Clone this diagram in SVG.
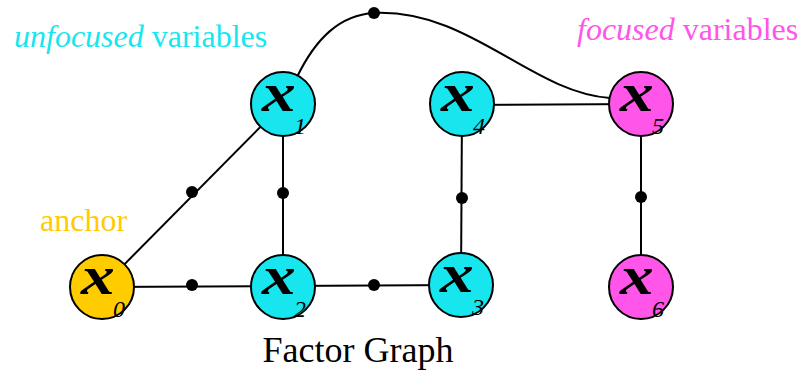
<svg xmlns="http://www.w3.org/2000/svg" width="807" height="375" viewBox="0 0 807 375">
<style>
.edge{stroke:#000;stroke-width:2;fill:none}
.fac{fill:#000}
.node{stroke:#000;stroke-width:2}
.cy{fill:#17E6EE}
.mg{fill:#FF55E8}
.yl{fill:#FFCC00}
.v{font-family:"Liberation Serif",serif;font-style:italic;font-weight:bold;font-size:54px;fill:#000;text-anchor:middle}
.s{font-family:"Liberation Serif",serif;font-style:italic;font-size:24px;fill:#000}
.lab{font-family:"Liberation Serif",serif;font-size:32px}
</style>
<rect width="807" height="375" fill="#fff"/>
<g id="connectors">
<line class="edge" x1="102" y1="287" x2="283" y2="104"/>
<line class="edge" x1="102" y1="287" x2="283" y2="286"/>
<line class="edge" x1="283" y1="104" x2="283" y2="287"/>
<line class="edge" x1="283" y1="286" x2="461" y2="285"/>
<line class="edge" x1="462" y1="104" x2="461" y2="285"/>
<line class="edge" x1="462" y1="105" x2="641" y2="104"/>
<line class="edge" x1="641" y1="104" x2="641" y2="287"/>
<path class="edge" d="M297,77 C316,38 340,15 374,13 C470,9 530,92 610,98"/>
<circle class="fac" cx="192" cy="192" r="6"/>
<circle class="fac" cx="283" cy="193" r="6"/>
<circle class="fac" cx="192" cy="285" r="6"/>
<circle class="fac" cx="374" cy="285" r="6"/>
<circle class="fac" cx="462" cy="198" r="6"/>
<circle class="fac" cx="641" cy="197" r="6"/>
<circle class="fac" cx="374" cy="13" r="6"/>
</g>
<g id="x0"><circle class="node yl" cx="102" cy="287" r="32"/><text class="v" transform="translate(98,294) scale(1.25,1)">x</text><text class="s" x="113" y="317">0</text></g>
<g id="x1"><circle class="node cy" cx="283" cy="104" r="32"/><text class="v" transform="translate(279,111) scale(1.25,1)">x</text><text class="s" x="294" y="134">1</text></g>
<g id="x2"><circle class="node cy" cx="283" cy="287" r="32"/><text class="v" transform="translate(279,294) scale(1.25,1)">x</text><text class="s" x="294" y="317">2</text></g>
<g id="x3"><circle class="node cy" cx="461" cy="285" r="32"/><text class="v" transform="translate(457,292) scale(1.25,1)">x</text><text class="s" x="472" y="315">3</text></g>
<g id="x4"><circle class="node cy" cx="462" cy="104" r="32"/><text class="v" transform="translate(458,111) scale(1.25,1)">x</text><text class="s" x="473" y="134">4</text></g>
<g id="x5"><circle class="node mg" cx="641" cy="104" r="32"/><text class="v" transform="translate(637,111) scale(1.25,1)">x</text><text class="s" x="652" y="134">5</text></g>
<g id="x6"><circle class="node mg" cx="641" cy="287" r="32"/><text class="v" transform="translate(637,294) scale(1.25,1)">x</text><text class="s" x="652" y="317">6</text></g>
<g id="labels">
<text class="lab" x="14" y="47" fill="#17E6EE"><tspan font-style="italic">unfocused</tspan> variables</text>
<text class="lab" x="577" y="40" fill="#FF55E8"><tspan font-style="italic">focused</tspan> variables</text>
<text class="lab" x="40" y="231" fill="#FFCC00">anchor</text>
<text x="358" y="362" text-anchor="middle" font-family="Liberation Serif,serif" font-size="36" fill="#000">Factor Graph</text>
</g>
</svg>
